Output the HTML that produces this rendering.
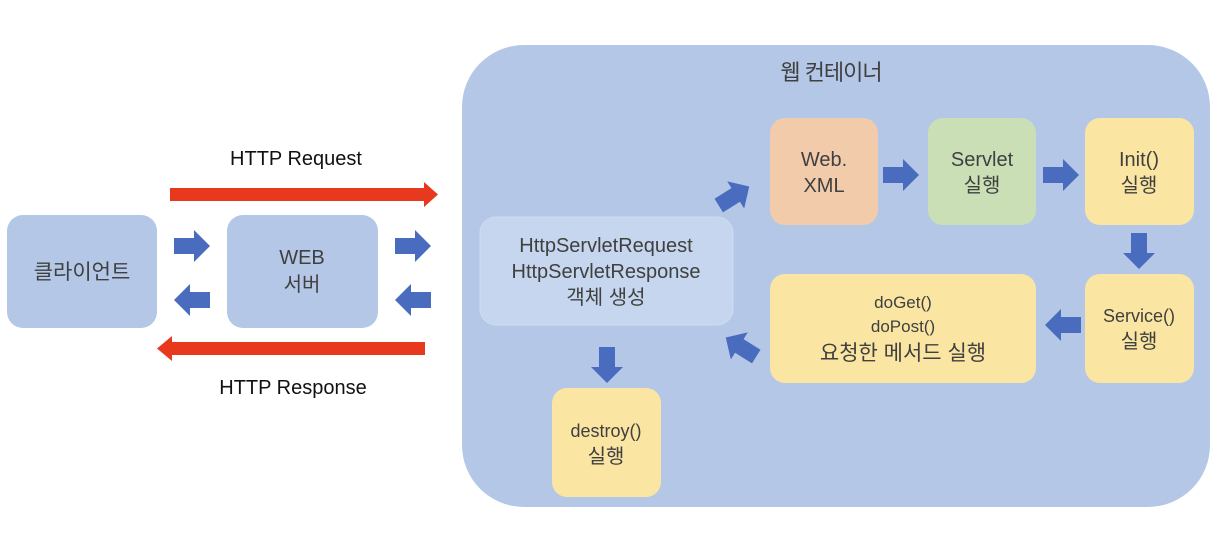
<!DOCTYPE html>
<html><head><meta charset="utf-8"><style>
html,body{margin:0;padding:0;background:#fff;}
svg text{font-family:"Liberation Sans","Noto Sans CJK KR",sans-serif;fill:#404040;text-anchor:middle;}
</style></head><body>
<svg width="1226" height="530" viewBox="0 0 1226 530" xmlns="http://www.w3.org/2000/svg">
<defs>
<path id="ar" d="M-18,-8 L2,-8 L2,-16 L18,0 L2,16 L2,8 L-18,8 Z" fill="#4a6cbf"/>
</defs>
<!-- left side -->
<rect x="7" y="215" width="150" height="113" rx="16" fill="#b4c7e7"/>
<text x="82" y="279" font-size="21">클라이언트</text>
<rect x="227" y="215" width="151" height="113" rx="16" fill="#b4c7e7"/>
<text x="302" y="264" font-size="20">WEB</text>
<text x="302" y="291" font-size="20">서버</text>
<text x="296" y="165" font-size="20" fill="#000" style="fill:#111">HTTP Request</text>
<text x="293" y="394" font-size="20" style="fill:#111">HTTP Response</text>
<path d="M170,188 L424,188 L424,182 L438,194.5 L424,207 L424,201 L170,201 Z" fill="#e8391f"/>
<path d="M425,342 L172,342 L172,336 L157,348.5 L172,361 L172,355 L425,355 Z" fill="#e8391f"/>
<use href="#ar" transform="translate(192,246)"/>
<use href="#ar" transform="translate(192,300) rotate(180)"/>
<use href="#ar" transform="translate(413,246)"/>
<use href="#ar" transform="translate(413,300) rotate(180)"/>
<!-- container -->
<rect x="462" y="45" width="748" height="462" rx="62" fill="#b4c7e7"/>
<text x="831" y="80" font-size="22" style="letter-spacing:-1px">웹 컨테이너</text>
<rect x="480" y="217" width="253" height="108" rx="16" fill="#c5d6ee" stroke="#cddcf0" stroke-width="1"/>
<text x="606" y="252" font-size="20">HttpServletRequest</text>
<text x="606" y="278" font-size="20">HttpServletResponse</text>
<text x="606" y="304" font-size="20">객체 생성</text>
<rect x="770" y="118" width="108" height="107" rx="15" fill="#f2cbab"/>
<text x="824" y="166" font-size="20">Web.</text>
<text x="824" y="192" font-size="20">XML</text>
<rect x="928" y="118" width="108" height="107" rx="15" fill="#cbdfb7"/>
<text x="982" y="166" font-size="20">Servlet</text>
<text x="982" y="192" font-size="20">실행</text>
<rect x="1085" y="118" width="109" height="107" rx="15" fill="#fae5a2"/>
<text x="1139" y="166" font-size="20">Init()</text>
<text x="1139" y="192" font-size="20">실행</text>
<rect x="1085" y="274" width="109" height="109" rx="15" fill="#fae5a2"/>
<text x="1139" y="322" font-size="18">Service()</text>
<text x="1139" y="348" font-size="20">실행</text>
<rect x="770" y="274" width="266" height="109" rx="15" fill="#fae5a2"/>
<text x="903" y="308" font-size="17">doGet()</text>
<text x="903" y="332" font-size="17">doPost()</text>
<text x="903" y="360" font-size="21">요청한 메서드 실행</text>
<rect x="552" y="388" width="109" height="109" rx="15" fill="#fae5a2"/>
<text x="606" y="437" font-size="18">destroy()</text>
<text x="606" y="463" font-size="20">실행</text>
<use href="#ar" transform="translate(901,175)"/>
<use href="#ar" transform="translate(1061,175)"/>
<use href="#ar" transform="translate(1139,251) rotate(90)"/>
<use href="#ar" transform="translate(1063,325) rotate(180)"/>
<use href="#ar" transform="translate(607,365) rotate(90)"/>
<use href="#ar" transform="translate(734,196) rotate(-32)"/>
<use href="#ar" transform="translate(741,347) rotate(212)"/>
</svg>
</body></html>
